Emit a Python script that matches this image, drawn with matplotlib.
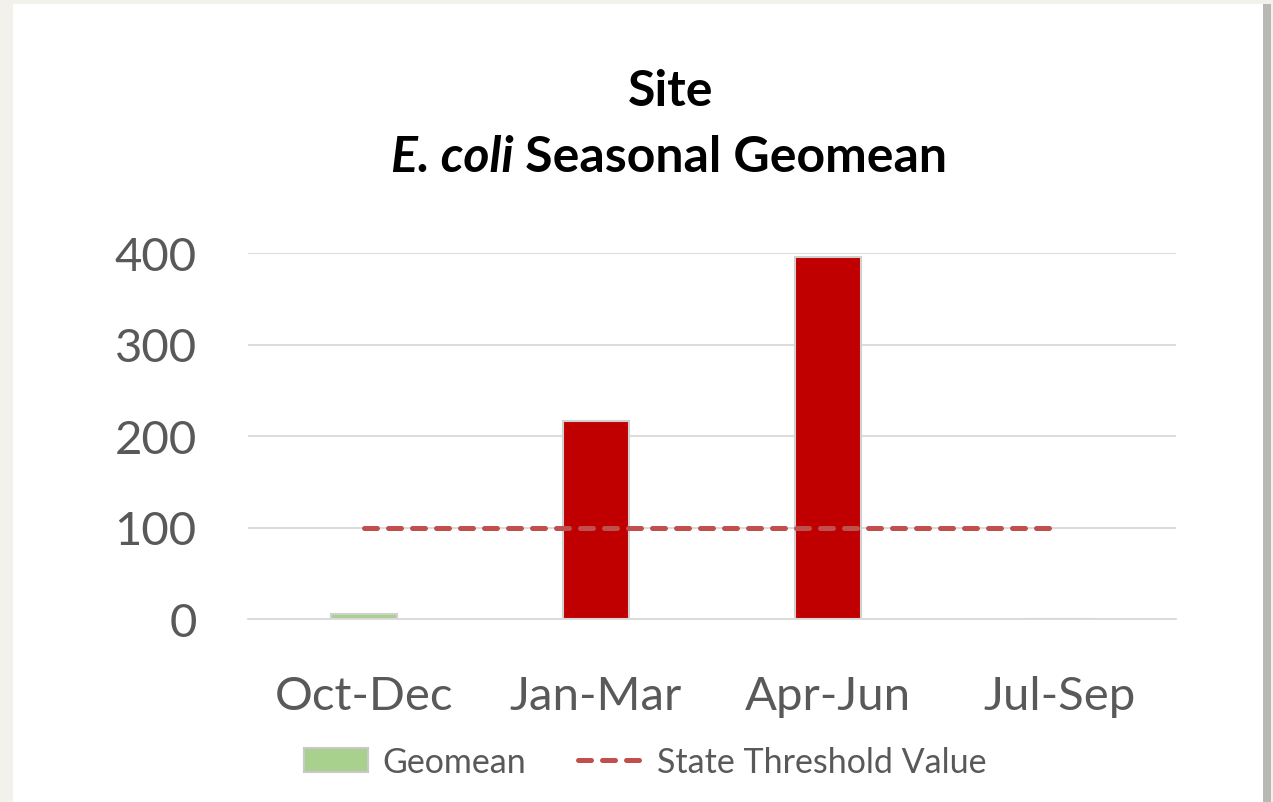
import matplotlib
matplotlib.use("Agg")
import matplotlib.pyplot as plt
from matplotlib.patches import Rectangle, Patch
from matplotlib.lines import Line2D
import numpy as np

seasons = ["Oct-Dec", "Jan-Mar", "Apr-Jun", "Jul-Sep"]
geomean = [5, 216, 396, 0]
threshold = [100, 100, 100, 100]
bar_colors = ["#a9d18e", "#c00000", "#c00000", "#c00000"]
yticks = [0, 100, 200, 300, 400]

plt.rcParams['font.family'] = ['Lato', 'DejaVu Sans']

fig = plt.figure(figsize=(12.73, 8.03), dpi=100)
fig.patch.set_facecolor("#f2f1ec")
# white card with a soft shadow on the right
fig.patches.append(Rectangle((1263/1273, 0), 8/1273, 798/803, transform=fig.transFigure,
                             facecolor="#b8b8b4", edgecolor="none", zorder=-2))
fig.patches.append(Rectangle((13/1273, 0), 1250/1273, 798/803, transform=fig.transFigure,
                             facecolor="white", edgecolor="none", zorder=-1))

dash = (0, (2.6, 2.2))

ax = fig.add_axes([248/1273, 1 - 620/803, 928/1273, 366/803])
ax.set_facecolor("none")
x = np.arange(len(seasons))
ax.bar(x, geomean, width=0.285, color=bar_colors, edgecolor="#d0d0d0", linewidth=1.5, zorder=2)
ax.plot(x, threshold, color="#c0504d", linestyle=dash, linewidth=3.6,
        dash_capstyle="round", zorder=3)

ax.set_xlim(-0.5, 3.5)
ax.set_ylim(0, 400)
ax.set_yticks(yticks)
ax.set_xticks(x)
ax.set_xticklabels(seasons)
ax.tick_params(axis="y", length=0, pad=37, labelsize=34, labelcolor="#595959")
ax.tick_params(axis="x", length=0, pad=40, labelsize=34, labelcolor="#595959")
ax.grid(axis="y", color="#d9d9d9", linewidth=1.3, zorder=0)
for s in ["top", "right", "left"]:
    ax.spines[s].set_visible(False)
ax.spines["bottom"].set_color("#d9d9d9")
ax.spines["bottom"].set_linewidth(1.3)

# title
fig.text(0.527, 1 - 91/803, "Site", ha="center", va="center", fontsize=36, fontweight="bold")
r = fig.canvas.get_renderer()
t1 = fig.text(0, 1 - 158/803, "E. coli", ha="left", va="center", fontsize=36,
              fontweight="bold", fontstyle="italic")
t2 = fig.text(0, 1 - 158/803, " Seasonal Geomean", ha="left", va="center", fontsize=36,
              fontweight="bold")
w1 = t1.get_window_extent(r).width
w2 = t2.get_window_extent(r).width
start = 669 - (w1 + w2) / 2
t1.set_x(start / 1273)
t2.set_x((start + w1) / 1273)

handles = [Patch(facecolor="#a9d18e", edgecolor="#c8c8c8", linewidth=1.5),
           Line2D([0], [0], color="#c0504d", linestyle=dash, linewidth=3.6,
                  dash_capstyle="round")]
fig.legend(handles, ["Geomean", "State Threshold Value"], loc="center",
           bbox_to_anchor=(645/1273, 1 - 763/803), ncol=2, frameon=False,
           fontsize=24.5, labelcolor="#595959", handlelength=1.9, handleheight=0.7,
           columnspacing=1.55, handletextpad=0.4)

fig.savefig("out.png", dpi=100, facecolor=fig.get_facecolor())
